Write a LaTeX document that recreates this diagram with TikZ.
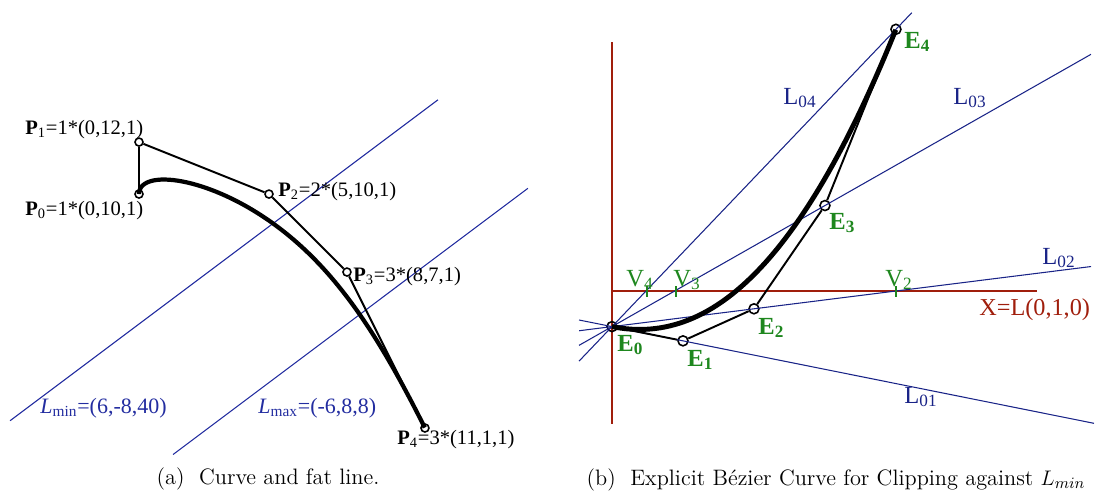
\documentclass[tikz,border=0pt]{standalone}
\usepackage{fontspec}
\newfontfamily\tms{Liberation Serif}
\usetikzlibrary{calc}
\definecolor{LineBlue}{RGB}{35,45,160}
\definecolor{DeepBlue}{RGB}{25,35,135}
\definecolor{AxisRed}{RGB}{160,30,12}
\definecolor{PtGreen}{RGB}{30,135,30}

\tikzset{
  declare function={
    bza(\t)=(1-\t)^4; bzb(\t)=4*\t*(1-\t)^3; bzc(\t)=6*\t^2*(1-\t)^2;
    bzd(\t)=4*\t^3*(1-\t); bze(\t)=\t^4;
  },
  ctrl/.style={circle,draw,line width=0.9pt,inner sep=0pt,minimum size=0.16cm},
  ectrl/.style={ctrl,minimum size=0.2cm},
  poly/.style={line width=1.1pt},
  fatcurve/.style={line width=2.4pt},
  thinblue/.style={LineBlue,line width=0.6pt},
  deepblue/.style={DeepBlue,line width=0.6pt},
  axis/.style={AxisRed,line width=1.2pt},
  vtick/.style={PtGreen,line width=0.6pt},
  lbl/.style={inner sep=0pt,anchor=base west,font=\tms\fontsize{11.7}{14}\selectfont},
  blbl/.style={lbl,LineBlue,font=\tms\fontsize{12.5}{15}\selectfont},
  elbl/.style={lbl,PtGreen,font=\tms\fontsize{14}{16}\selectfont\bfseries},
  vlbl/.style={lbl,PtGreen,font=\tms\fontsize{14}{16}\selectfont},
  llbl/.style={lbl,DeepBlue,font=\tms\fontsize{14}{16}\selectfont},
  caption/.style={inner sep=0pt,anchor=base,font=\fontsize{12.7}{15}\selectfont}
}

\begin{document}
\begin{tikzpicture}[x=0.02cm,y=-0.02cm]
  \useasboundingbox (0,0) rectangle (1097,490);

  % (a) curve and fat line
  \coordinate (Oa) at (139,454);
  \begin{scope}[shift={(Oa)},x=0.52cm,y=0.52cm]
    \draw[thinblue] (-4.96,1.28) -- (11.5,13.625);
    \draw[thinblue] (1.31,-0.02) -- (14.96,10.22);
    \draw[fatcurve] plot[domain=0:1,samples=80,variable=\t]
      ({(10*bzc(\t)+24*bzd(\t)+33*bze(\t))/(bza(\t)+bzb(\t)+2*bzc(\t)+3*bzd(\t)+3*bze(\t))},
       {(10*bza(\t)+12*bzb(\t)+20*bzc(\t)+21*bzd(\t)+3*bze(\t))/(bza(\t)+bzb(\t)+2*bzc(\t)+3*bzd(\t)+3*bze(\t))});
    \node[ctrl] (P0) at (0,10) {};
    \node[ctrl] (P1) at (0,12) {};
    \node[ctrl] (P2) at (5,10) {};
    \node[ctrl] (P3) at (8,7) {};
    \node[ctrl] (P4) at (11,1) {};
    \draw[poly] (P0) -- (P1) -- (P2) -- (P3) -- (P4);
  \end{scope}
  \node[lbl] (p1lbl) at (25,134) {\textbf{P}\textsubscript{1}=1*(0,12,1)};
  \node[lbl] (p0lbl) at (25,215) {\textbf{P}\textsubscript{0}=1*(0,10,1)};
  \node[lbl] (p2lbl) at (278,196) {\textbf{P}\textsubscript{2}=2*(5,10,1)};
  \node[lbl] (p3lbl) at (353,281) {\textbf{P}\textsubscript{3}=3*(8,7,1)};
  \node[lbl] (p4lbl) at (397,444) {\textbf{P}\textsubscript{4}=3*(11,1,1)};
  \node[blbl] (lminlbl) at (40,413) {\textit{L}\textsubscript{min}=(6,-8,40)};
  \node[blbl] (lmaxlbl) at (258,413) {\textit{L}\textsubscript{max}=(-6,8,8)};
  \node[caption] (capa) at (268,484) {(a)\ \ Curve and fat line.};

  % (b) explicit curve against L_min
  \coordinate (ytop) at (612,42);
  \coordinate (ybot) at (612,424);
  \coordinate (xend) at (1037,291);
  \coordinate (Ob) at (612,291);
  \draw[axis] (ytop) -- (ybot);
  \draw[axis] (Ob) -- (xend);
  \begin{scope}[shift={(Ob)},x=5.68cm,y=0.0178cm]
    \node[ectrl] (E0) at (0,-40) {};
    \node[ectrl] (E1) at (0.25,-56) {};
    \node[ectrl] (E2) at (0.5,-20) {};
    \node[ectrl] (E3) at (0.75,96) {};
    \node[ectrl] (E4) at (1,294) {};
    \draw[deepblue] ($(E0)!-0.464!(E1)$) -- ($(E0)!6.79!(E1)$);
    \draw[deepblue] ($(E0)!-0.232!(E2)$) -- ($(E0)!3.374!(E2)$);
    \draw[deepblue] ($(E0)!-0.155!(E3)$) -- ($(E0)!2.249!(E3)$);
    \draw[deepblue] ($(E0)!-0.116!(E4)$) -- ($(E0)!1.056!(E4)$);
    \draw[fatcurve,line width=2.8pt] plot[domain=0:1,samples=60,variable=\t]
      ({\t},{-40*bza(\t)-56*bzb(\t)-20*bzc(\t)+96*bzd(\t)+294*bze(\t)});
    \draw[poly] (E0) -- (E1) -- (E2) -- (E3) -- (E4);
  \end{scope}
  \foreach \vx in {647,676,896}
    \draw[vtick] (\vx,286) -- (\vx,297);
  \node[elbl] (e0lbl) at (617,351) {E\textsubscript{0}};
  \node[elbl] (e1lbl) at (687,366) {E\textsubscript{1}};
  \node[elbl] (e2lbl) at (758,334) {E\textsubscript{2}};
  \node[elbl] (e3lbl) at (829,229) {E\textsubscript{3}};
  \node[elbl] (e4lbl) at (904,48) {E\textsubscript{4}};
  \node[vlbl] (v4lbl) at (626,286) {V\textsubscript{4}};
  \node[vlbl] (v3lbl) at (673,286) {V\textsubscript{3}};
  \node[vlbl] (v2lbl) at (885,286) {V\textsubscript{2}};
  \node[llbl] (l01lbl) at (904,403) {L\textsubscript{01}};
  \node[llbl] (l02lbl) at (1042,264) {L\textsubscript{02}};
  \node[llbl] (l03lbl) at (953,104) {L\textsubscript{03}};
  \node[llbl] (l04lbl) at (783,104) {L\textsubscript{04}};
  \node[lbl,AxisRed,font=\tms\fontsize{13.8}{16}\selectfont] (xlbl) at (979,315) {X=L(0,1,0)};
  \node[caption] (capb) at (836,485) {(b)\ \ Explicit B\'ezier Curve for Clipping against $L_{min}$};
\end{tikzpicture}
\end{document}
